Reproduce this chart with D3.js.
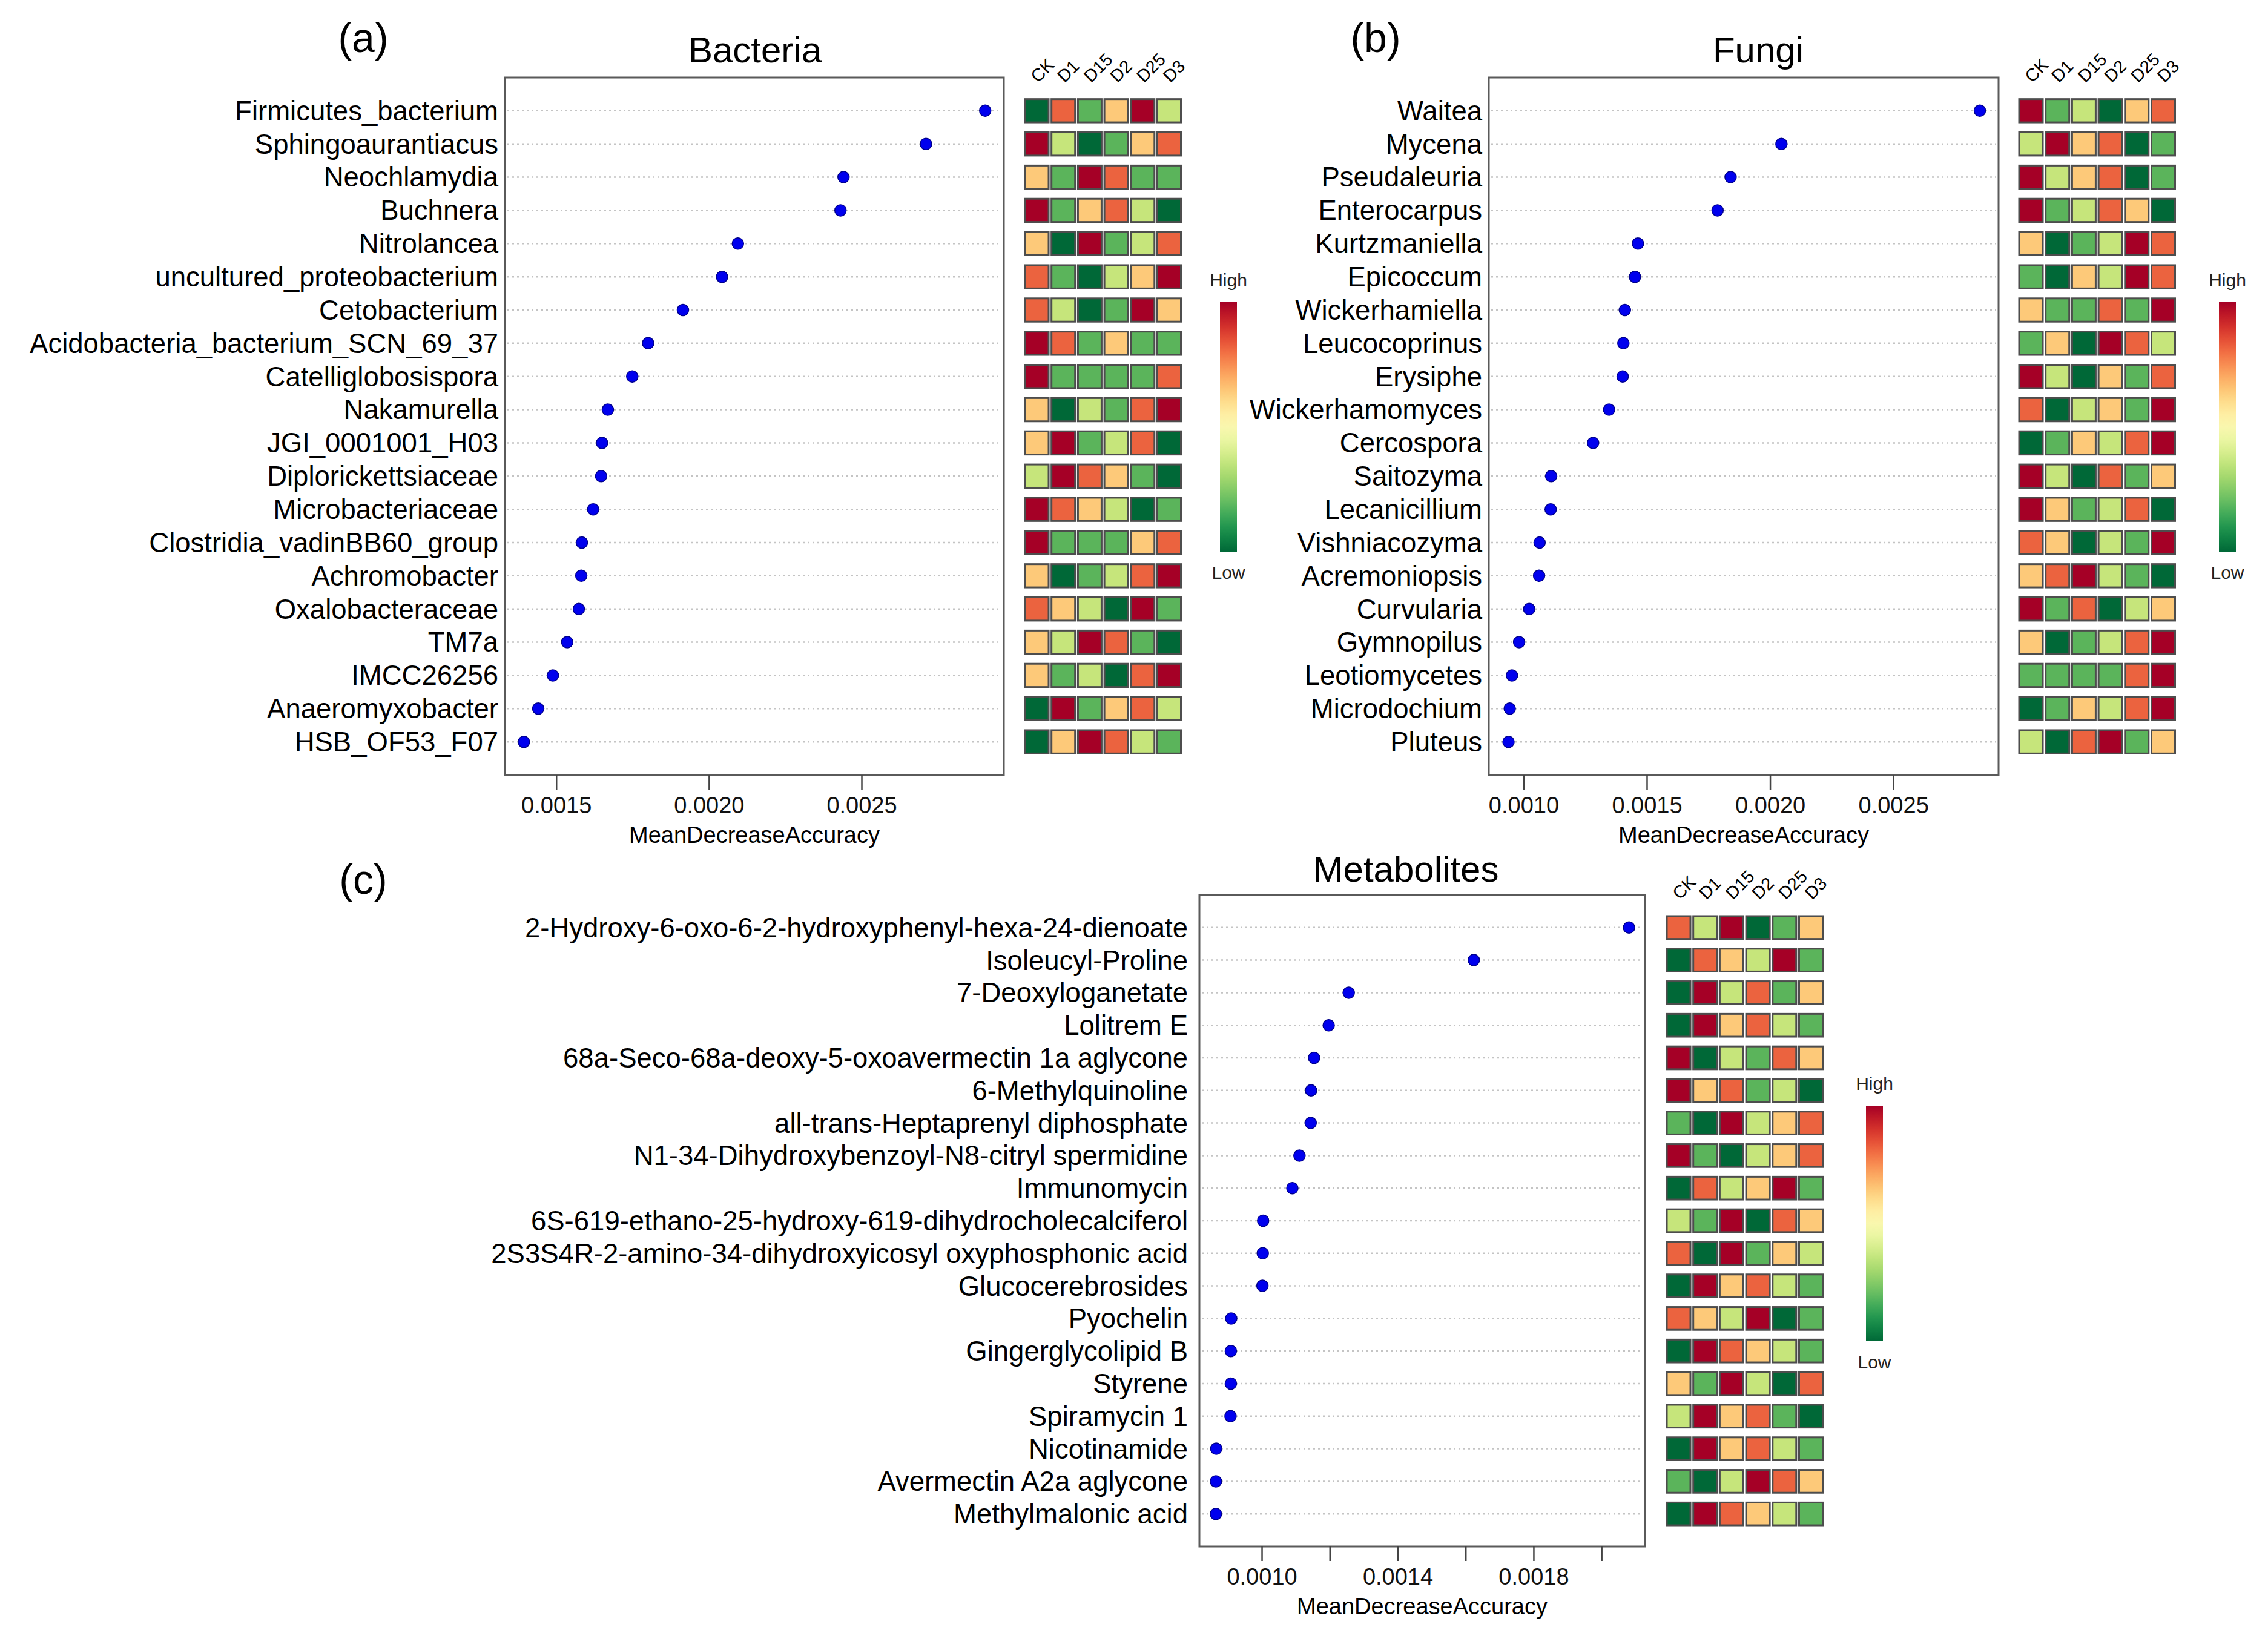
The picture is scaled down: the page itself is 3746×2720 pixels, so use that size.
<!DOCTYPE html>
<html>
<head>
<meta charset="utf-8">
<script src="https://cdn.jsdelivr.net/npm/d3@7"></script>
<style>
  body { margin: 0; background: #fff; }
  text { font-family: "Liberation Sans", Arial, sans-serif; }
</style>
</head>
<body>
<div id="chart"></div>
<script>
// heatmap columns
var groups = ["CK", "D1", "D15", "D2", "D25", "D3"];

// heatmap levels: 1 = lowest (dark green) ... 6 = highest (dark red)
var levelColors = ["#006837", "#5bb45b", "#c6e57b", "#fdc979", "#eb633f", "#a50026"];

var bacteriaNames = ["Firmicutes_bacterium", "Sphingoaurantiacus", "Neochlamydia", "Buchnera",
    "Nitrolancea", "uncultured_proteobacterium", "Cetobacterium", "Acidobacteria_bacterium_SCN_69_37",
    "Catelliglobosispora", "Nakamurella", "JGI_0001001_H03", "Diplorickettsiaceae",
    "Microbacteriaceae", "Clostridia_vadinBB60_group", "Achromobacter", "Oxalobacteraceae",
    "TM7a", "IMCC26256", "Anaeromyxobacter", "HSB_OF53_F07"];
var bacteriaMDA = [0.002905, 0.002711, 0.002441, 0.002431, 0.002095, 0.002043, 0.001915, 0.001801,
    0.001749, 0.001669, 0.001650, 0.001647, 0.001621, 0.001584, 0.001582, 0.001574,
    0.001536, 0.001489, 0.001441, 0.001394];
var bacteriaHeat = [
    [1, 5, 2, 4, 6, 3], [6, 3, 1, 2, 4, 5], [4, 2, 6, 5, 2, 2], [6, 2, 4, 5, 3, 1],
    [4, 1, 6, 2, 3, 5], [5, 2, 1, 3, 4, 6], [5, 3, 1, 2, 6, 4], [6, 5, 2, 4, 2, 2],
    [6, 2, 2, 2, 2, 5], [4, 1, 3, 2, 5, 6], [4, 6, 2, 3, 5, 1], [3, 6, 5, 4, 2, 1],
    [6, 5, 4, 3, 1, 2], [6, 2, 2, 2, 4, 5], [4, 1, 2, 3, 5, 6], [5, 4, 3, 1, 6, 2],
    [4, 3, 6, 5, 2, 1], [4, 2, 3, 1, 5, 6], [1, 6, 2, 4, 5, 3], [1, 4, 6, 5, 3, 2]];
var bacteriaTicks = [0.0015, 0.0020, 0.0025];

var fungiNames = ["Waitea", "Mycena", "Pseudaleuria", "Enterocarpus", "Kurtzmaniella", "Epicoccum",
    "Wickerhamiella", "Leucocoprinus", "Erysiphe", "Wickerhamomyces", "Cercospora", "Saitozyma",
    "Lecanicillium", "Vishniacozyma", "Acremoniopsis", "Curvularia", "Gymnopilus", "Leotiomycetes",
    "Microdochium", "Pluteus"];
var fungiMDA = [0.002851, 0.002046, 0.001840, 0.001787, 0.001464, 0.001452, 0.001411, 0.001405,
    0.001402, 0.001347, 0.001282, 0.001112, 0.001110, 0.001065, 0.001063, 0.001023,
    0.000982, 0.000953, 0.000944, 0.000939];
var fungiHeat = [
    [6, 2, 3, 1, 4, 5], [3, 6, 4, 5, 1, 2], [6, 3, 4, 5, 1, 2], [6, 2, 3, 5, 4, 1],
    [4, 1, 2, 3, 6, 5], [2, 1, 4, 3, 6, 5], [4, 2, 2, 5, 2, 6], [2, 4, 1, 6, 5, 3],
    [6, 3, 1, 4, 2, 5], [5, 1, 3, 4, 2, 6], [1, 2, 4, 3, 5, 6], [6, 3, 1, 5, 2, 4],
    [6, 4, 2, 3, 5, 1], [5, 4, 1, 3, 2, 6], [4, 5, 6, 3, 2, 1], [6, 2, 5, 1, 3, 4],
    [4, 1, 2, 3, 5, 6], [2, 2, 2, 2, 5, 6], [1, 2, 4, 3, 5, 6], [3, 1, 5, 6, 2, 4]];
var fungiTicks = [0.0010, 0.0015, 0.0020, 0.0025];

var metaboliteNames = ["2-Hydroxy-6-oxo-6-2-hydroxyphenyl-hexa-24-dienoate", "Isoleucyl-Proline",
    "7-Deoxyloganetate", "Lolitrem E", "68a-Seco-68a-deoxy-5-oxoavermectin 1a aglycone",
    "6-Methylquinoline", "all-trans-Heptaprenyl diphosphate", "N1-34-Dihydroxybenzoyl-N8-citryl spermidine",
    "Immunomycin", "6S-619-ethano-25-hydroxy-619-dihydrocholecalciferol",
    "2S3S4R-2-amino-34-dihydroxyicosyl oxyphosphonic acid", "Glucocerebrosides", "Pyochelin",
    "Gingerglycolipid B", "Styrene", "Spiramycin 1", "Nicotinamide", "Avermectin A2a aglycone",
    "Methylmalonic acid"];
var metaboliteMDA = [0.002081, 0.001624, 0.001256, 0.001197, 0.001154, 0.001145, 0.001144, 0.001111,
    0.001090, 0.001004, 0.001003, 0.001002, 0.000910, 0.000909, 0.000909, 0.000908,
    0.000866, 0.000865, 0.000865];
var metaboliteHeat = [
    [5, 3, 6, 1, 2, 4], [1, 5, 4, 3, 6, 2], [1, 6, 3, 5, 2, 4], [1, 6, 4, 5, 3, 2],
    [6, 1, 3, 2, 5, 4], [6, 4, 5, 2, 3, 1], [2, 1, 6, 3, 4, 5], [6, 2, 1, 3, 4, 5],
    [1, 5, 3, 4, 6, 2], [3, 2, 6, 1, 5, 4], [5, 1, 6, 2, 4, 3], [1, 6, 4, 5, 3, 2],
    [5, 4, 3, 6, 1, 2], [1, 6, 5, 4, 3, 2], [4, 2, 6, 3, 1, 5], [3, 6, 4, 5, 2, 1],
    [1, 6, 4, 5, 3, 2], [2, 1, 3, 6, 5, 4], [1, 6, 5, 4, 3, 2]];
var metaboliteTicks = [0.0010, 0.0012, 0.0014, 0.0016, 0.0018, 0.0020];
var metaboliteTickLabels = ["0.0010", "", "0.0014", "", "0.0018", ""];

var svg = d3.select("#chart").append("svg")
    .attr("width", 3746)
    .attr("height", 2720);
svg.append("rect").attr("width", 3746).attr("height", 2720).attr("fill", "#fff");

var levelColor = d3.scaleOrdinal().domain([1, 2, 3, 4, 5, 6]).range(levelColors);

var defs = svg.append("defs");
var grad = defs.append("linearGradient")
    .attr("id", "rdylgn")
    .attr("x1", 0).attr("y1", 1).attr("x2", 0).attr("y2", 0);
d3.range(0, 1.0001, 0.05).forEach(function(t) {
    grad.append("stop")
        .attr("offset", t)
        .attr("stop-color", d3.interpolateRdYlGn(1 - t));
});

function drawPanel(p) {
    var g = svg.append("g");
    var n = p.names.length;

    var x = d3.scaleLinear().domain(p.xlim).range([p.box[0], p.box[1]]);
    var y = d3.scaleLinear().domain([0, n + 1]).range([p.box[2], p.box[3]]);
    var rowY = function(i) { return y(i + 1); };

    // panel letter and title
    g.append("text")
        .attr("x", p.letter[0]).attr("y", p.letter[1])
        .attr("text-anchor", "middle")
        .attr("font-size", 68)
        .text(p.letterText);
    g.append("text")
        .attr("x", p.titleX).attr("y", p.box[2] - p.titleGap)
        .attr("text-anchor", "middle")
        .attr("font-size", 60)
        .text(p.title);

    // dotted guide lines
    g.selectAll(".guide").data(p.names).enter().append("line")
        .attr("x1", p.box[0] + 4).attr("x2", p.box[1] - 4)
        .attr("y1", function(d, i) { return rowY(i); })
        .attr("y2", function(d, i) { return rowY(i); })
        .attr("stroke", "#c4c4c4")
        .attr("stroke-width", 2.5)
        .attr("stroke-dasharray", "3,5");

    // box
    g.append("rect")
        .attr("x", p.box[0]).attr("y", p.box[2])
        .attr("width", p.box[1] - p.box[0])
        .attr("height", p.box[3] - p.box[2])
        .attr("fill", "none")
        .attr("stroke", "#5a5a5a")
        .attr("stroke-width", 3);

    // row labels
    g.selectAll(".lab").data(p.names).enter().append("text")
        .attr("x", p.box[0] - p.labelGap)
        .attr("y", function(d, i) { return rowY(i); })
        .attr("dy", "0.35em")
        .attr("text-anchor", "end")
        .attr("font-size", 45.5)
        .text(function(d) { return d; });

    // dots
    g.selectAll(".dot").data(p.values).enter().append("circle")
        .attr("cx", function(d) { return x(d); })
        .attr("cy", function(d, i) { return rowY(i); })
        .attr("r", 9.5)
        .attr("fill", "#0000ee")
        .attr("stroke", "#00008b")
        .attr("stroke-width", 1.5);

    // x axis
    var axis = d3.axisBottom(x)
        .tickValues(p.ticks)
        .tickSize(24)
        .tickPadding(12)
        .tickFormat(function(d, i) { return p.tickLabels ? p.tickLabels[i] : d3.format(".4f")(d); });
    var ax = g.append("g")
        .attr("transform", "translate(0," + p.box[3] + ")")
        .call(axis);
    ax.select(".domain").remove();
    ax.selectAll(".tick line").attr("stroke", "#444").attr("stroke-width", 2.5);
    ax.selectAll(".tick text")
        .attr("font-size", 38)
        .attr("fill", "#111")
        .style("font-family", "\"Liberation Sans\", Arial, sans-serif");

    g.append("text")
        .attr("x", (p.box[0] + p.box[1]) / 2)
        .attr("y", p.box[3] + 112)
        .attr("text-anchor", "middle")
        .attr("font-size", 38)
        .text("MeanDecreaseAccuracy");

    // heatmap
    var hx = d3.scaleBand()
        .domain(groups)
        .range([p.heatX, p.heatX + 257.5])
        .paddingInner(0.107)
        .paddingOuter(0);
    var cellH = (y(1) - y(0)) * 0.7;

    var rows = g.selectAll(".hrow").data(p.heat).enter().append("g")
        .attr("transform", function(d, i) { return "translate(0," + (rowY(i) - cellH / 2) + ")"; });
    rows.selectAll("rect").data(function(d) { return d; }).enter().append("rect")
        .attr("x", function(d, j) { return hx(groups[j]); })
        .attr("y", 0)
        .attr("width", hx.bandwidth())
        .attr("height", cellH)
        .attr("fill", function(d) { return levelColor(d); })
        .attr("stroke", "#4d4d4d")
        .attr("stroke-width", 3);

    var labY = rowY(0) - cellH / 2 - 26;
    g.selectAll(".colLab").data(groups).enter().append("text")
        .attr("transform", function(d) {
            return "translate(" + (hx(d) + hx.bandwidth() / 2 + 2) + "," + labY + ") rotate(-45)";
        })
        .attr("font-size", 29)
        .text(function(d) { return d; });

    // colour key
    var lg = g.append("g");
    lg.append("rect")
        .attr("x", p.legend[0]).attr("y", p.legend[1])
        .attr("width", 28)
        .attr("height", p.legend[2] - p.legend[1])
        .attr("fill", "url(#rdylgn)");
    lg.append("text")
        .attr("x", p.legend[0] + 14).attr("y", p.legend[1] - 26)
        .attr("text-anchor", "middle")
        .attr("font-size", 30)
        .attr("fill", "#222")
        .text("High");
    lg.append("text")
        .attr("x", p.legend[0] + 14).attr("y", p.legend[2] + 45)
        .attr("text-anchor", "middle")
        .attr("font-size", 30)
        .attr("fill", "#222")
        .text("Low");
}

drawPanel({
    names: bacteriaNames, values: bacteriaMDA, heat: bacteriaHeat,
    ticks: bacteriaTicks, xlim: [0.001332, 0.002966],
    box: [834, 1658, 128, 1280], labelGap: 11,
    title: "Bacteria", titleX: 1247, titleGap: 25,
    letterText: "(a)", letter: [600, 86],
    heatX: 1693, legend: [2015, 499, 911]
});

drawPanel({
    names: fungiNames, values: fungiMDA, heat: fungiHeat,
    ticks: fungiTicks, xlim: [0.000859, 0.002927],
    box: [2459, 3301, 128, 1280], labelGap: 11,
    title: "Fungi", titleX: 2904, titleGap: 25,
    letterText: "(b)", letter: [2272, 86],
    heatX: 3335, legend: [3665, 499, 911]
});

drawPanel({
    names: metaboliteNames, values: metaboliteMDA, heat: metaboliteHeat,
    ticks: metaboliteTicks, tickLabels: metaboliteTickLabels, xlim: [0.0008164, 0.002128],
    box: [1981, 2717, 1478, 2554], labelGap: 19,
    title: "Metabolites", titleX: 2322, titleGap: 22,
    letterText: "(c)", letter: [600, 1476],
    heatX: 2753, legend: [3082, 1826, 2215]
});
</script>
</body>
</html>
